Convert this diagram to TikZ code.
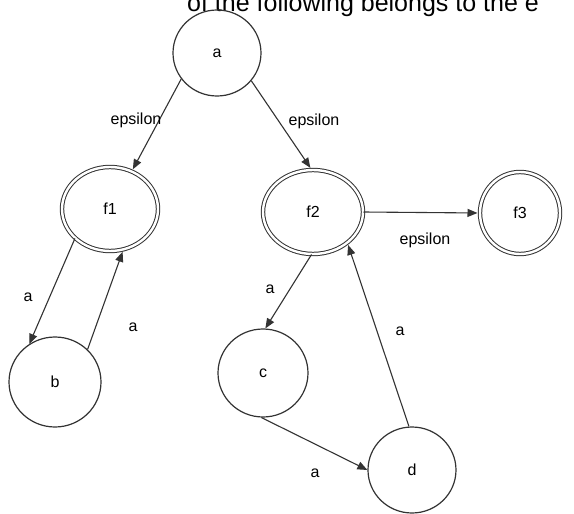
\documentclass[tikz,border=0pt]{standalone}
\usepackage{fontspec}
\setmainfont{Liberation Sans}
\usetikzlibrary{shapes.geometric,arrows.meta}
\definecolor{linegray}{HTML}{333333}
\begin{document}
\begin{tikzpicture}[x=1pt,y=-1pt,
  st/.style={draw=linegray, line width=1.2pt, ellipse, inner sep=0pt, font=\fontsize{16}{16}\selectfont},
  acc/.style={st, double=white, double distance=2.4pt, line width=1pt},
  tr/.style={draw=linegray, line width=1.1pt, -{Triangle[length=10pt,width=8pt]}},
  tra/.style={tr, shorten >=2pt},
  lab/.style={font=\fontsize{16}{16}\selectfont, inner sep=0pt}]
\useasboundingbox (0,0) rectangle (574,514);
\fill[white] (0,0) rectangle (574,514);
\begin{scope}
\clip (0,0) rectangle (574,514);
\node[anchor=base west, font=\fontsize{25}{25}\selectfont, inner sep=0pt] (hdr) at (187,12) {of the following belongs to the e};
\end{scope}
% states
\node[st, minimum width=88, minimum height=86] (a) at (217,53) {a};
\node[acc, minimum width=96, minimum height=84] (f1) at (110,209) {f1};
\node[acc, minimum width=100, minimum height=84] (f2) at (313,212) {f2};
\node[acc, minimum width=80, minimum height=82] (f3) at (520,213) {f3};
\node[st, minimum width=92, minimum height=90] (b) at (55,382) {b};
\node[st, minimum width=90, minimum height=88] (c) at (263,373) {c};
\node[st, minimum width=88, minimum height=86] (d) at (412,470) {d};
% transitions
\draw[tra] (a.216) -- (f1.60);
\draw[tra] (a.321) -- (f2.92);
\draw[tra] (f2.east) -- (f3.west);
\draw[tr] (f1.220) -- (b.124);
\draw[tra] (b.45) -- (f1.288);
\draw[tr] (f2.268) -- (c.87);
\draw[tra] (d.94) -- (f2.318);
\draw[tr] (c.268) -- (d.west);
% labels
\node[lab] (l1) at (136,120) {epsilon};
\node[lab] (l2) at (314,121) {epsilon};
\node[lab] (l3) at (425,240) {epsilon};
\node[lab] (l4) at (28,297) {a};
\node[lab] (l5) at (133,327) {a};
\node[lab] (l6) at (270,289) {a};
\node[lab] (l7) at (400,331) {a};
\node[lab] (l8) at (315,473) {a};
\end{tikzpicture}
\end{document}
